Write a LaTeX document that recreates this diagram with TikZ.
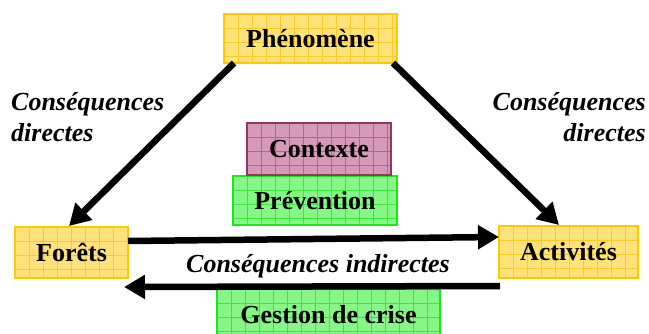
\documentclass[tikz,border=0pt]{standalone}
\usepackage{fontspec}
\setmainfont{Liberation Serif}
\usetikzlibrary{arrows.meta,calc}
\definecolor{yfill}{HTML}{FFE27A}
\definecolor{ygrid}{HTML}{F7CC2A}
\definecolor{yborder}{HTML}{FFC800}
\definecolor{pfill}{HTML}{D49AB8}
\definecolor{pgrid}{HTML}{B0668E}
\definecolor{pborder}{HTML}{993366}
\definecolor{gfill}{HTML}{86F786}
\definecolor{ggrid}{HTML}{3CE83C}
\definecolor{gborder}{HTML}{1EE61E}
\tikzset{
  boxtext/.style={font=\fontsize{26}{30}\selectfont\bfseries, inner sep=0pt},
  bigarrow/.style={line width=6.5pt, -{Triangle[length=21pt,width=23pt]}},
  lbl/.style={font=\fontsize{26}{31}\selectfont\bfseries\itshape, inner sep=0pt},
}
% #1 name, #2 x1, #3 y1, #4 x2, #5 y2, #6 fill, #7 grid, #8 border, #9 text
\newcommand\gridbox[9]{%
  \path[fill=#6] (#2,#3) rectangle (#4,#5);
  \begin{scope}
    \clip (#2,#3) rectangle (#4,#5);
    \foreach \gx in {0,14,...,230} {\draw[#7, line width=0.6pt] (#2+\gx,#3) -- (#2+\gx,#5);}
    \foreach \gy in {0,14,...,60} {\draw[#7, line width=0.6pt] (#2,#3+\gy) -- (#4,#3+\gy);}
  \end{scope}
  \draw[#8, line width=1.6pt] (#2,#3) rectangle (#4,#5);
  \node[boxtext] (#1) at ({(#2+#4)/2},{(#3+#5)/2}) {#9};
  \coordinate (#1-nw) at (#2,#3);
  \coordinate (#1-se) at (#4,#5);
}
\begin{document}
\begin{tikzpicture}[x=1pt,y=-1pt]
\useasboundingbox (0,0) rectangle (649,334);
\gridbox{phen}{224}{14}{397}{63}{yfill}{ygrid}{yborder}{Phénomène}
\gridbox{prev}{233}{176}{397}{225}{gfill}{ggrid}{gborder}{Prévention}
\gridbox{ctx}{247}{123}{391}{175}{pfill}{pgrid}{pborder}{Contexte}
\gridbox{for}{15}{227}{128}{278}{yfill}{ygrid}{yborder}{Forêts}
\gridbox{act}{499}{226}{638}{278}{yfill}{ygrid}{yborder}{Activités}
\gridbox{gest}{217}{289}{440}{340}{gfill}{ggrid}{gborder}{Gestion de crise}
\coordinate (phenL) at ($(phen-nw)+(10,49)$);
\coordinate (phenR) at ($(phen-se)+(-4,0)$);
\coordinate (forTop) at ($(for-nw)+(54,-1)$);
\coordinate (actTop) at ($(act-nw)+(60,-1)$);
\draw[bigarrow] (phenL) -- (forTop);
\draw[bigarrow] (phenR) -- (actTop);
\coordinate (forOut) at ($(for-se)+(0,-37)$);
\coordinate (actIn) at ($(act-nw)+(0,11)$);
\draw[bigarrow] (forOut) -- (actIn);
\coordinate (actOut) at ($(act-se)+(-138,8)$);
\coordinate (forIn) at ($(for-se)+(-4,9)$);
\draw[bigarrow] (actOut) -- (forIn);
\node[lbl, align=left, anchor=north west] (lblL) at (11,92) {Conséquences\\directes};
\node[lbl, align=right, anchor=north east] (lblR) at (646,92) {Conséquences\\directes};
\node[lbl] (lblI) at (318,266) {Conséquences indirectes};
\end{tikzpicture}
\end{document}
